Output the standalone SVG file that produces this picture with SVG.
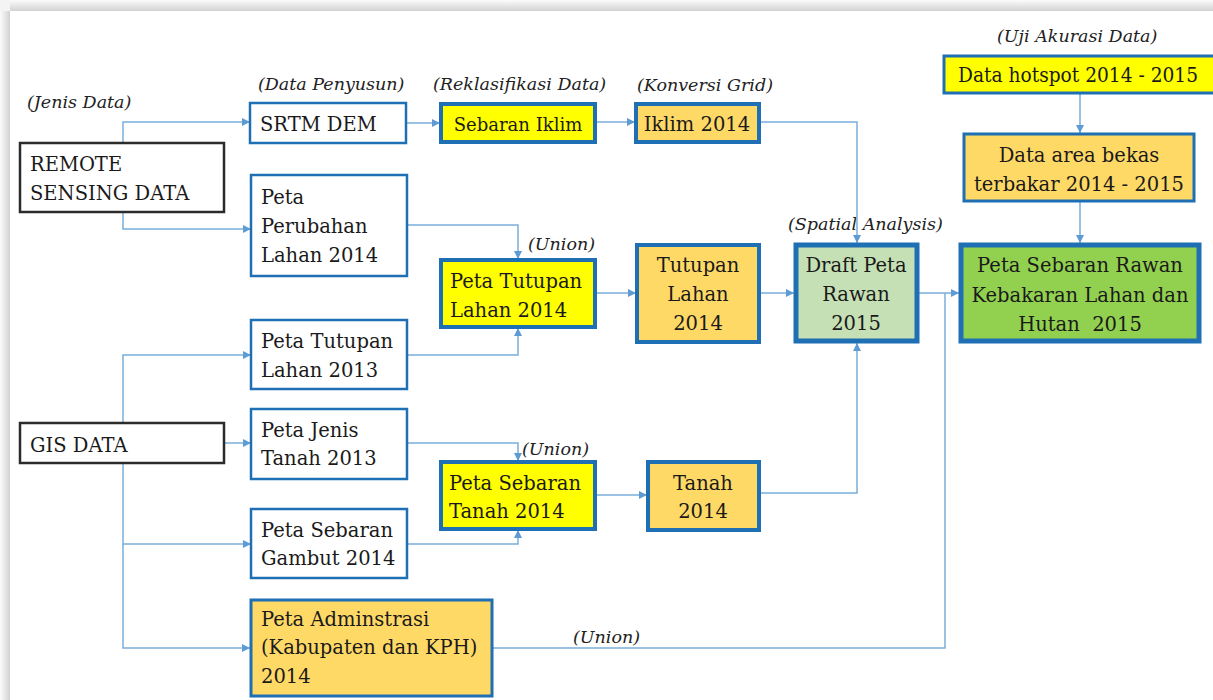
<svg xmlns="http://www.w3.org/2000/svg" width="1213" height="700" viewBox="0 0 1213 700">
<defs>
<linearGradient id="shL" x1="0" y1="0" x2="1" y2="0"><stop offset="0" stop-color="#fbfbfb"/><stop offset="1" stop-color="#d2d2d2"/></linearGradient>
<linearGradient id="shT" x1="0" y1="0" x2="0" y2="1"><stop offset="0" stop-color="#fbfbfb"/><stop offset="1" stop-color="#d2d2d2"/></linearGradient>
<marker id="ar" markerUnits="userSpaceOnUse" markerWidth="10" markerHeight="10" refX="8" refY="4" orient="auto"><path d="M0,0 L8,4 L0,8 Z" fill="#5f9bd3"/></marker>
<style>
.t{font-family:"DejaVu Serif","Liberation Serif",serif;font-size:19.5px;fill:#1a1a1a}
.c{text-anchor:middle}
.lb{font-family:"DejaVu Serif","Liberation Serif",serif;font-size:17.5px;font-style:italic;fill:#222}
.bk{fill:#fff;stroke:#2b2b2b;stroke-width:2.5}
.wb{fill:#fff;stroke:#1f6fb4;stroke-width:2.5}
.yb{fill:#ffff00;stroke:#1f6fb4;stroke-width:4}
.ob{fill:#ffd966;stroke:#1f6fb4;stroke-width:4}
.lg{fill:#c5e0b4;stroke:#1f6fb4;stroke-width:5}
.gg{fill:#92d050;stroke:#1f6fb4;stroke-width:5}
.cn path{fill:none;stroke:#7aaedb;stroke-width:1.5}
.cn path.a{marker-end:url(#ar)}
</style>
</defs>
<rect width="1213" height="700" fill="#fff"/>
<rect x="0" y="0" width="10" height="700" fill="url(#shL)"/>
<rect x="0" y="0" width="1213" height="11" fill="url(#shT)"/>
<rect x="0" y="0" width="10" height="11" fill="#f4f4f4"/>

<g id="labels">
<text class="lb" x="27" y="108">(Jenis Data)</text>
<text class="lb" x="258" y="90">(Data Penyusun)</text>
<text class="lb" x="433" y="90">(Reklasifikasi Data)</text>
<text class="lb" x="637" y="91">(Konversi Grid)</text>
<text class="lb" x="997" y="42">(Uji Akurasi Data)</text>
<text class="lb" x="788" y="230">(Spatial Analysis)</text>
<text class="lb" x="528" y="250">(Union)</text>
<text class="lb" x="522" y="455">(Union)</text>
<text class="lb" x="573" y="643">(Union)</text>
</g>

<g class="cn" id="connectors">
<path class="a" d="M123,143 V122 H250"/>
<path class="a" d="M123,212 V229 H251"/>
<path class="a" d="M406,123 H440"/>
<path class="a" d="M596,122 H635"/>
<path class="a" d="M760,122 H857 V243"/>
<path class="a" d="M407,225 H518 V259"/>
<path class="a" d="M407,355 H518 V328"/>
<path class="a" d="M595,293 H636"/>
<path class="a" d="M760,293 H794"/>
<path class="a" d="M919,293 H959"/>
<path class="a" d="M1080,94 V133"/>
<path class="a" d="M1080,202 V243"/>
<path class="a" d="M123,423 V355 H251"/>
<path class="a" d="M224,443 H251"/>
<path class="a" d="M123,463 V544 H251"/>
<path class="a" d="M123,544 V648 H250"/>
<path class="a" d="M407,443 H518 V461"/>
<path class="a" d="M407,544 H518 V530"/>
<path class="a" d="M596,495 H647"/>
<path class="a" d="M760,493 H857 V343"/>
<path d="M492,648 H945 V293"/>
</g>

<g id="remote"><rect class="bk" x="20" y="143" width="204" height="69"/><text class="t" x="30" y="171">REMOTE</text><text class="t" x="30" y="200">SENSING DATA</text></g>
<g id="gis"><rect class="bk" x="20" y="423" width="204" height="40"/><text class="t" x="30" y="452">GIS DATA</text></g>
<g id="srtm"><rect class="wb" x="250" y="103" width="156" height="40"/><text class="t" x="260" y="131">SRTM DEM</text></g>
<g id="perubahan"><rect class="wb" x="251" y="175" width="156" height="101"/><text class="t" x="261" y="204">Peta</text><text class="t" x="261" y="233">Perubahan</text><text class="t" x="261" y="262">Lahan 2014</text></g>
<g id="tutupan2013"><rect class="wb" x="251" y="320" width="156" height="69"/><text class="t" x="261" y="348">Peta Tutupan</text><text class="t" x="261" y="377">Lahan 2013</text></g>
<g id="jenis"><rect class="wb" x="251" y="409" width="156" height="70"/><text class="t" x="261" y="437">Peta Jenis</text><text class="t" x="261" y="465">Tanah 2013</text></g>
<g id="gambut"><rect class="wb" x="251" y="509" width="156" height="69"/><text class="t" x="261" y="537">Peta Sebaran</text><text class="t" x="261" y="565">Gambut 2014</text></g>
<g id="admin"><rect class="ob" x="251" y="600" width="241" height="96" style="stroke-width:3"/><text class="t" x="261" y="626">Peta Adminstrasi</text><text class="t" x="261" y="654">(Kabupaten dan KPH)</text><text class="t" x="261" y="683">2014</text></g>
<g id="sebaraniklim"><rect class="yb" x="441" y="104" width="154" height="38"/><text class="t c" x="518" y="131" style="font-size:18px">Sebaran Iklim</text></g>
<g id="iklim2014"><rect class="ob" x="636" y="104" width="123" height="38"/><text class="t c" x="697" y="131">Iklim 2014</text></g>
<g id="tutupan2014"><rect class="yb" x="441" y="260" width="154" height="67"/><text class="t" x="450" y="288">Peta Tutupan</text><text class="t" x="450" y="317">Lahan 2014</text></g>
<g id="tutupanlahan"><rect class="ob" x="637" y="245" width="122" height="97"/><text class="t c" x="698" y="272">Tutupan</text><text class="t c" x="698" y="301">Lahan</text><text class="t c" x="698" y="330">2014</text></g>
<g id="draft"><rect class="lg" x="796" y="245" width="121" height="96"/><text class="t c" x="856" y="272">Draft Peta</text><text class="t c" x="856" y="301">Rawan</text><text class="t c" x="856" y="330">2015</text></g>
<g id="hotspot"><rect class="yb" x="944" y="56" width="275" height="37" style="stroke-width:3"/><text class="t" x="958" y="82" textLength="240" lengthAdjust="spacingAndGlyphs">Data hotspot 2014 - 2015</text></g>
<g id="bekas"><rect class="ob" x="964" y="134" width="230" height="67" style="stroke-width:3"/><text class="t c" x="1079" y="162">Data area bekas</text><text class="t c" x="1079" y="191">terbakar 2014 - 2015</text></g>
<g id="final"><rect class="gg" x="961" y="245" width="238" height="96"/><text class="t c" x="1080" y="272">Peta Sebaran Rawan</text><text class="t c" x="1080" y="302">Kebakaran Lahan dan</text><text class="t c" x="1080" y="331">Hutan&#160; 2015</text></g>
<g id="sebarantanah"><rect class="yb" x="441" y="462" width="154" height="67"/><text class="t" x="449" y="490">Peta Sebaran</text><text class="t" x="449" y="518">Tanah 2014</text></g>
<g id="tanah2014"><rect class="ob" x="648" y="462" width="111" height="68"/><text class="t c" x="703" y="490">Tanah</text><text class="t c" x="703" y="518">2014</text></g>
</svg>
